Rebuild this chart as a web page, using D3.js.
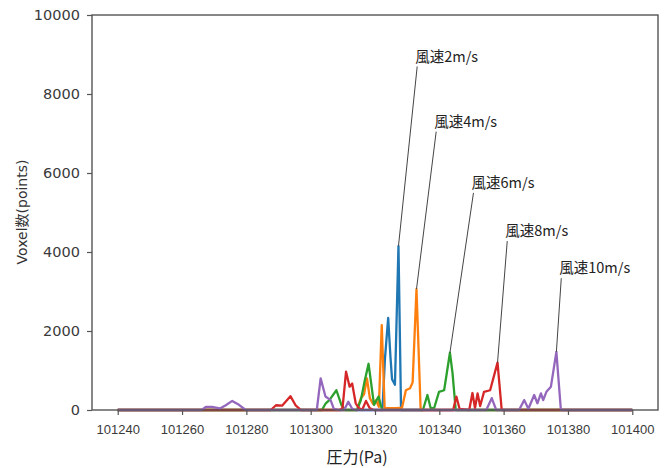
<!DOCTYPE html>
<html>
<head>
<meta charset="utf-8">
<script src="https://cdn.jsdelivr.net/npm/d3@7"></script>
<style>
  body { margin: 0; background: #fff; }
  svg { display: block; }
</style>
</head>
<body>
<div id="graph"></div>
<script>
// values: pressure (Pa) and voxel count per wind speed
const labels = ['風速2m/s', '風速4m/s', '風速6m/s', '風速8m/s', '風速10m/s'];
const colors = ['#1f77b4', '#ff7f0e', '#2ca02c', '#d62728', '#9467bd'];

const pressure2 = [101240, 101322.3, 101323.1, 101324.1, 101324.8, 101325.3, 101326.2, 101327.3, 101328.1, 101400];
const voxels2   = [0, 0, 1300, 2330, 1350, 780, 640, 4150, 0, 0];

const pressure4 = [101240, 101314.4, 101315.6, 101316.6, 101317.5, 101318.4, 101319.4, 101320.3, 101321.2, 101322.1, 101323.0,
                   101326.8, 101328.4, 101329.6, 101330.9, 101331.7, 101332.9, 101334.2, 101400];
const voxels4   = [0, 0, 300, 400, 800, 300, 150, 250, 80, 2150, 50,
                   50, 60, 500, 550, 700, 3060, 0, 0];

const pressure6 = [101240, 101303.5, 101304.7, 101305.8, 101308.0, 101309.6, 101310.7, 101314.4, 101315.6, 101316.7, 101318.0,
                   101319.7, 101321.1, 101322.2, 101334.9, 101336.3, 101337.3, 101338.4, 101339.9, 101341.5, 101343.3,
                   101344.1, 101345.1, 101400];
const voxels6   = [0, 0, 170, 250, 500, 120, 0, 0, 250, 700, 1170,
                   130, 340, 0, 0, 380, 50, 50, 460, 500, 1450,
                   940, 0, 0];

const pressure8 = [101240, 101287.6, 101289.2, 101291.1, 101293.7, 101295.3, 101297.0, 101309.1, 101309.9, 101311.0, 101312.1,
                   101312.9, 101314.0, 101315.0, 101316.0, 101317.2, 101318.4, 101319.7, 101344.3, 101345.3, 101346.3,
                   101349.3, 101350.3, 101351.1, 101351.9, 101352.7, 101353.9, 101355.8, 101358.1, 101359.4, 101400];
const voxels8   = [0, 0, 120, 110, 350, 120, 0, 0, 50, 970, 590,
                   670, 170, 50, 0, 230, 40, 0, 0, 340, 30,
                   0, 430, 50, 420, 100, 460, 500, 1200, 0, 0];

const pressure10 = [101240, 101266.1, 101267.4, 101269.3, 101271.8, 101273.6, 101275.6, 101277.7, 101279.8, 101301.9, 101303.1,
                    101304.6, 101306.2, 101307.2, 101308.8, 101310.4, 101311.7, 101312.9, 101314.1, 101354.6, 101356.3,
                    101357.7, 101364.8, 101366.4, 101367.7, 101369.5, 101370.5, 101371.6, 101372.3, 101373.3, 101374.7,
                    101376.4, 101377.8, 101400];
const voxels10   = [0, 0, 80, 80, 40, 120, 230, 130, 0, 0, 800,
                    340, 250, 30, 0, 0, 210, 30, 0, 0, 300,
                    0, 0, 250, 30, 380, 170, 420, 250, 460, 590,
                    1470, 0, 0];

// where each annotation text sits (data coords)
const notePressure = [101332.5, 101338.4, 101350.0, 101360.5, 101377.3];
const noteVoxels   = [8950, 7300, 5750, 4530, 3590];

const xTicks = [101240, 101260, 101280, 101300, 101320, 101340, 101360, 101380, 101400];
const yTicks = [0, 2000, 4000, 6000, 8000, 10000];

const pressures = [pressure2, pressure4, pressure6, pressure8, pressure10];
const voxels = [voxels2, voxels4, voxels6, voxels8, voxels10];

const chartW = 672, chartH = 468;
const padLeft = 92, padRight = 658, padTop = 15, padBottom = 410;

const x = d3.scaleLinear().domain([101232, 101408]).range([padLeft, padRight]);
const y = d3.scaleLinear().domain([0, 10000]).range([padBottom, padTop]);

const svg = d3.select('#graph').append('svg')
  .attr('width', chartW)
  .attr('height', chartH)
  .style('background', '#fff');

const line = d3.line()
  .x(d => x(d[0]))
  .y(d => y(d[1]));

pressures.forEach((ps, i) => {
  const pts = ps.map((p, j) => [p, voxels[i][j]]);
  svg.append('path')
    .datum(pts)
    .attr('fill', 'none')
    .attr('stroke', colors[i])
    .attr('stroke-width', 2.3)
    .attr('stroke-linejoin', 'round')
    .attr('d', line);
});

// frame
svg.append('rect')
  .attr('x', padLeft).attr('y', padTop)
  .attr('width', padRight - padLeft).attr('height', padBottom - padTop)
  .attr('fill', 'none')
  .attr('stroke', '#555')
  .attr('stroke-width', 1.4);

const yAxis = svg.append('g')
  .attr('transform', 'translate(' + padLeft + ',0)')
  .call(d3.axisLeft(y).tickValues(yTicks).tickFormat(d3.format('d')).tickSize(5).tickPadding(7).tickSizeOuter(0));
yAxis.select('.domain').remove();
yAxis.selectAll('line').attr('stroke', '#555').attr('stroke-width', 1.2);
yAxis.selectAll('text')
  .attr('fill', '#3a3a3a')
  .style('font-family', '"DejaVu Sans", sans-serif')
  .style('font-size', '14.5px');

const xAxis = svg.append('g')
  .attr('transform', 'translate(0,' + padBottom + ')')
  .call(d3.axisBottom(x).tickValues(xTicks).tickFormat(d3.format('d')).tickSize(5).tickPadding(10).tickSizeOuter(0));
xAxis.select('.domain').remove();
xAxis.selectAll('line').attr('stroke', '#555').attr('stroke-width', 1.2);
xAxis.selectAll('text')
  .attr('fill', '#3a3a3a')
  .style('font-family', '"Liberation Sans", sans-serif')
  .style('font-size', '13px');

// annotations: leader line from text to each peak
labels.forEach((t, i) => {
  const ps = pressures[i], vs = voxels[i];
  const k = d3.maxIndex(vs);
  const tx = x(notePressure[i]), ty = y(noteVoxels[i]);
  svg.append('line')
    .attr('x1', tx + 2).attr('y1', ty + 10)
    .attr('x2', x(ps[k])).attr('y2', y(vs[k]))
    .attr('stroke', '#444')
    .attr('stroke-width', 1);
  svg.append('text')
    .attr('x', tx).attr('y', ty)
    .attr('dy', '0.35em')
    .attr('fill', '#222')
    .style('font-family', '"Noto Sans CJK JP", sans-serif')
    .style('font-size', '14.5px')
    .text(t);
});

svg.append('text')
  .attr('x', 357).attr('y', 463)
  .attr('text-anchor', 'middle')
  .attr('fill', '#222')
  .style('font-family', '"Noto Sans CJK JP", sans-serif')
  .style('font-size', '16px')
  .text('圧力(Pa)');

svg.append('text')
  .attr('transform', 'translate(27,212) rotate(-90)')
  .attr('text-anchor', 'middle')
  .attr('fill', '#333')
  .style('font-family', '"DejaVu Sans", "Noto Sans CJK JP", sans-serif')
  .style('font-size', '14px')
  .text('Voxel数(points)');
</script>
</body>
</html>
